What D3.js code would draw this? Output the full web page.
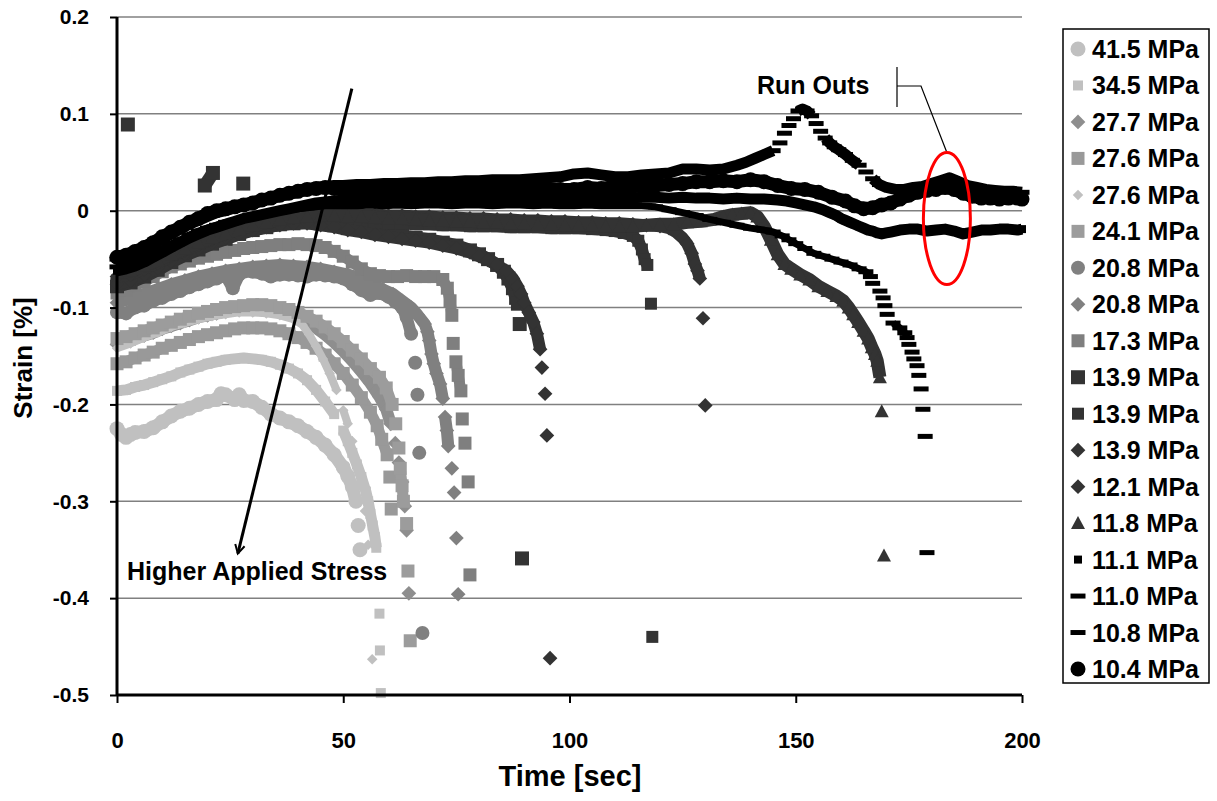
<!DOCTYPE html>
<html>
<head>
<meta charset="utf-8">
<script src="https://cdn.jsdelivr.net/npm/d3@7"></script>
<style>
  body { margin: 0; background: #fff; }
  svg text { font-family: "Liberation Sans", Arial, sans-serif; font-weight: bold; fill: #000; }
</style>
</head>
<body>
<svg id="chart" width="1217" height="801"></svg>
<script>
// ---- Tick values and labels ----
const xTicks = [0, 50, 100, 150, 200];
const yTicks = [0.2, 0.1, 0, -0.1, -0.2, -0.3, -0.4, -0.5];
const yTickLabels = ["0.2", "0.1", "0", "-0.1", "-0.2", "-0.3", "-0.4", "-0.5"];
const stressLabels = ["41.5 MPa", "34.5 MPa", "27.7 MPa", "27.6 MPa", "27.6 MPa", "24.1 MPa",
  "20.8 MPa", "20.8 MPa", "17.3 MPa", "13.9 MPa", "13.9 MPa", "13.9 MPa", "12.1 MPa",
  "11.8 MPa", "11.1 MPa", "11.0 MPa", "10.8 MPa", "10.4 MPa"];

// ---- Creep strain histories [time s, strain %] ----
const s41_5 = [[0,-0.225],[1,-0.231],[2,-0.234],[3,-0.231],[4,-0.229],[6,-0.228],[8,-0.224],[10,-0.218],[12,-0.212],[14,-0.207],[16,-0.204],[18,-0.2],[20,-0.197],[22,-0.195],[23,-0.189],[24,-0.19],[26,-0.195],[27,-0.19],[28,-0.196],[30,-0.197],[32,-0.203],[34,-0.21],[36,-0.214],[38,-0.218],[40,-0.222],[42,-0.228],[44,-0.234],[46,-0.242],[48,-0.252],[50,-0.265],[51,-0.274],[52,-0.285],[52.8,-0.3],[53.3,-0.325],[53.7,-0.35]];
const s34_5 = [[0,-0.186],[2,-0.185],[4,-0.182],[6,-0.18],[8,-0.177],[10,-0.174],[12,-0.171],[14,-0.167],[16,-0.164],[18,-0.161],[20,-0.158],[22,-0.156],[24,-0.154],[26,-0.153],[28,-0.152],[30,-0.153],[32,-0.154],[34,-0.156],[36,-0.159],[38,-0.163],[40,-0.168],[42,-0.175],[44,-0.185],[46,-0.197],[48,-0.21],[50,-0.227],[51,-0.238],[52,-0.25],[53,-0.262],[54,-0.275],[55,-0.29],[55.5,-0.3],[56,-0.313],[56.5,-0.325],[57,-0.337],[57.3,-0.348],[58,-0.416],[58.1,-0.454],[58.3,-0.498]];
const s27_7 = [[0,-0.138],[2,-0.135],[4,-0.132],[6,-0.129],[8,-0.126],[10,-0.122],[12,-0.119],[14,-0.116],[16,-0.113],[18,-0.11],[20,-0.108],[22,-0.106],[24,-0.104],[26,-0.102],[28,-0.101],[30,-0.1],[32,-0.1],[34,-0.101],[36,-0.103],[38,-0.106],[40,-0.11],[42,-0.115],[44,-0.121],[46,-0.128],[48,-0.136],[50,-0.145],[52,-0.155],[54,-0.166],[56,-0.178],[58,-0.192],[59.5,-0.205],[60.5,-0.22],[61.5,-0.24],[62.3,-0.26],[63,-0.28],[63.6,-0.305],[64,-0.33],[64.5,-0.395]];
const s27_6sq = [[0,-0.158],[2,-0.156],[4,-0.152],[6,-0.149],[8,-0.146],[10,-0.142],[12,-0.139],[14,-0.136],[16,-0.133],[18,-0.13],[20,-0.128],[22,-0.126],[24,-0.124],[26,-0.122],[28,-0.121],[30,-0.121],[32,-0.121],[34,-0.122],[36,-0.124],[38,-0.127],[40,-0.131],[42,-0.136],[44,-0.142],[46,-0.149],[48,-0.158],[50,-0.168],[52,-0.18],[54,-0.193],[56,-0.208],[57.5,-0.222],[58.5,-0.236],[59.7,-0.252],[60.3,-0.275],[60.6,-0.308]];
const s27_6d = [[0,-0.142],[3,-0.137],[6,-0.131],[9,-0.126],[12,-0.12],[15,-0.116],[18,-0.112],[21,-0.109],[24,-0.107],[27,-0.105],[30,-0.105],[33,-0.106],[36,-0.108],[39,-0.112],[41,-0.118],[42.5,-0.128],[44,-0.14],[45.5,-0.153],[47,-0.168],[48.5,-0.185],[50,-0.206],[51,-0.22],[52,-0.238],[53,-0.26],[54,-0.285],[54.8,-0.31],[55.5,-0.345],[56.4,-0.463]];
const s24_1 = [[0,-0.132],[2,-0.13],[4,-0.127],[6,-0.124],[8,-0.121],[10,-0.118],[12,-0.115],[14,-0.112],[16,-0.109],[18,-0.106],[20,-0.104],[22,-0.102],[24,-0.1],[26,-0.099],[28,-0.098],[30,-0.097],[32,-0.097],[34,-0.098],[36,-0.1],[38,-0.102],[40,-0.105],[42,-0.109],[44,-0.114],[46,-0.12],[48,-0.127],[50,-0.135],[52,-0.144],[54,-0.153],[56,-0.163],[58,-0.172],[59.5,-0.183],[60.8,-0.2],[61.6,-0.22],[62.3,-0.245],[62.6,-0.266],[63,-0.284],[63.3,-0.3],[64,-0.323],[64.3,-0.372],[64.8,-0.444]];
const s20_8c = [[0,-0.105],[2,-0.106],[4,-0.1],[6,-0.098],[8,-0.093],[10,-0.09],[12,-0.086],[14,-0.083],[16,-0.079],[18,-0.076],[20,-0.073],[22,-0.07],[24,-0.067],[25.6,-0.08],[27,-0.066],[28,-0.063],[30,-0.063],[32,-0.065],[34,-0.068],[36,-0.066],[38,-0.066],[40,-0.067],[42,-0.068],[44,-0.066],[46,-0.067],[48,-0.068],[50,-0.07],[52,-0.076],[54,-0.082],[56,-0.087],[58,-0.085],[60,-0.089],[61.5,-0.094],[63,-0.1],[64,-0.11],[65,-0.127],[65.9,-0.157],[66.4,-0.19],[66.8,-0.25],[67.5,-0.436]];
const s20_8d = [[0,-0.095],[3,-0.091],[6,-0.086],[9,-0.081],[12,-0.076],[15,-0.072],[18,-0.068],[21,-0.065],[24,-0.062],[27,-0.06],[30,-0.058],[33,-0.057],[36,-0.056],[39,-0.057],[42,-0.058],[45,-0.06],[48,-0.063],[51,-0.066],[54,-0.07],[57,-0.077],[59,-0.082],[61,-0.086],[63,-0.093],[65,-0.1],[66.5,-0.108],[68,-0.117],[68.6,-0.125],[69,-0.134],[69.5,-0.148],[70,-0.158],[70.6,-0.168],[71.4,-0.179],[72,-0.194],[72.5,-0.213],[72.9,-0.227],[73.2,-0.243],[74,-0.266],[74.5,-0.291],[75,-0.338],[75.4,-0.396]];
const s17_3 = [[0,-0.085],[2,-0.082],[4,-0.077],[6,-0.073],[8,-0.068],[10,-0.063],[12,-0.058],[14,-0.055],[16,-0.052],[18,-0.049],[20,-0.047],[22,-0.045],[24,-0.043],[26,-0.041],[28,-0.039],[30,-0.038],[32,-0.037],[34,-0.036],[36,-0.035],[38,-0.035],[40,-0.034],[42,-0.035],[44,-0.036],[46,-0.038],[48,-0.042],[50,-0.047],[52,-0.053],[54,-0.06],[56,-0.065],[58,-0.067],[60,-0.068],[62,-0.068],[64,-0.067],[66,-0.068],[68,-0.068],[70,-0.068],[72,-0.071],[73,-0.08],[73.6,-0.093],[74,-0.108],[74.3,-0.137],[74.9,-0.156],[75.4,-0.17],[76,-0.186],[76.3,-0.215],[76.9,-0.24],[77.6,-0.28],[78,-0.376]];
const s13_9a = [[2.4,0.089],[19.4,0.026],[21.2,0.039],[27.9,0.028],[0,-0.078],[3,-0.074],[6,-0.068],[9,-0.061],[12,-0.053],[15,-0.046],[18,-0.04],[21,-0.034],[24,-0.029],[27,-0.024],[30,-0.02],[33,-0.017],[36,-0.014],[39,-0.013],[42,-0.012],[45,-0.013],[48,-0.015],[51,-0.018],[54,-0.02],[57,-0.022],[60,-0.024],[63,-0.026],[66,-0.028],[69,-0.03],[72,-0.033],[75,-0.036],[78,-0.041],[80,-0.045],[82,-0.05],[84,-0.056],[85.5,-0.063],[86.5,-0.07],[87.5,-0.08],[88.2,-0.09],[88.6,-0.096],[89,-0.117],[89.5,-0.359]];
const s13_9b = [[0,-0.072],[3,-0.069],[6,-0.063],[9,-0.057],[12,-0.05],[15,-0.043],[18,-0.037],[21,-0.031],[24,-0.026],[27,-0.021],[30,-0.017],[33,-0.014],[36,-0.012],[39,-0.01],[42,-0.009],[45,-0.009],[48,-0.01],[51,-0.011],[54,-0.012],[57,-0.012],[60,-0.013],[63,-0.013],[66,-0.014],[69,-0.014],[72,-0.015],[75,-0.015],[78,-0.016],[81,-0.016],[84,-0.016],[87,-0.017],[90,-0.017],[93,-0.017],[96,-0.018],[99,-0.018],[102,-0.018],[105,-0.019],[108,-0.02],[110,-0.021],[112,-0.023],[114,-0.026],[115.2,-0.031],[116,-0.04],[116.6,-0.05],[117.2,-0.056],[118,-0.096],[118.3,-0.44]];
const s13_9d = [[0,-0.076],[3,-0.072],[6,-0.066],[9,-0.059],[12,-0.052],[15,-0.045],[18,-0.039],[21,-0.033],[24,-0.028],[27,-0.024],[30,-0.02],[33,-0.017],[36,-0.015],[39,-0.013],[42,-0.013],[45,-0.015],[48,-0.017],[51,-0.02],[54,-0.022],[57,-0.025],[60,-0.027],[63,-0.029],[66,-0.031],[69,-0.033],[72,-0.036],[75,-0.039],[78,-0.043],[80,-0.047],[82,-0.051],[84,-0.056],[86,-0.062],[87.5,-0.07],[88.5,-0.078],[89.3,-0.086],[90,-0.095],[91,-0.105],[92,-0.115],[92.8,-0.127],[93.5,-0.143],[93.9,-0.162],[94.6,-0.189],[95,-0.232],[95.7,-0.462]];
const s12_1 = [[0,-0.068],[3,-0.066],[6,-0.06],[9,-0.054],[12,-0.047],[15,-0.041],[18,-0.035],[21,-0.029],[24,-0.024],[27,-0.019],[30,-0.015],[33,-0.012],[36,-0.009],[39,-0.007],[42,-0.005],[45,-0.004],[48,-0.003],[51,-0.003],[54,-0.004],[57,-0.004],[60,-0.005],[63,-0.005],[66,-0.006],[69,-0.006],[72,-0.007],[75,-0.007],[78,-0.008],[81,-0.008],[84,-0.009],[87,-0.009],[90,-0.01],[93,-0.01],[96,-0.011],[99,-0.011],[102,-0.012],[105,-0.012],[108,-0.013],[111,-0.013],[114,-0.014],[117,-0.015],[120,-0.016],[122,-0.018],[123.5,-0.022],[125,-0.028],[126,-0.034],[127,-0.044],[127.7,-0.055],[128.3,-0.062],[128.8,-0.07],[129.5,-0.111],[130,-0.201]];
const s11_8 = [[0,-0.064],[3,-0.062],[6,-0.057],[9,-0.051],[12,-0.045],[15,-0.039],[18,-0.033],[21,-0.028],[24,-0.023],[27,-0.019],[30,-0.015],[33,-0.012],[36,-0.009],[39,-0.007],[42,-0.006],[45,-0.005],[48,-0.005],[51,-0.006],[54,-0.006],[57,-0.007],[60,-0.008],[63,-0.008],[66,-0.009],[69,-0.01],[72,-0.01],[75,-0.011],[78,-0.011],[81,-0.012],[84,-0.012],[87,-0.013],[90,-0.013],[93,-0.014],[96,-0.014],[99,-0.015],[102,-0.015],[105,-0.015],[108,-0.016],[111,-0.016],[114,-0.016],[117,-0.015],[120,-0.014],[123,-0.014],[126,-0.012],[129,-0.011],[132,-0.009],[134,-0.006],[136,-0.004],[138,-0.003],[140,-0.002],[141.5,-0.006],[143,-0.016],[144.5,-0.03],[146,-0.045],[147.5,-0.055],[149,-0.06],[151,-0.066],[153,-0.071],[155,-0.078],[157,-0.083],[159,-0.088],[160.5,-0.093],[161.7,-0.1],[162.7,-0.107],[163.8,-0.115],[165,-0.124],[166,-0.132],[166.8,-0.141],[167.5,-0.148],[168,-0.155],[168.6,-0.172],[169,-0.207],[169.5,-0.356]];
const s11_1 = [[0,-0.062],[2,-0.06],[4,-0.057],[6,-0.053],[8,-0.048],[10,-0.043],[12,-0.038],[14,-0.033],[16,-0.028],[18,-0.024],[20,-0.02],[22,-0.017],[24,-0.014],[26,-0.011],[28,-0.008],[30,-0.006],[32,-0.004],[34,-0.002],[36,0],[38,0.002],[40,0.004],[42,0.006],[44,0.008],[46,0.009],[48,0.01],[50,0.011],[53,0.012],[56,0.012],[59,0.013],[62,0.012],[65,0.013],[68,0.012],[71,0.012],[74,0.013],[77,0.012],[80,0.013],[83,0.013],[86,0.012],[89,0.013],[92,0.013],[95,0.014],[98,0.013],[101,0.013],[104,0.014],[107,0.013],[110,0.014],[113,0.013],[116,0.014],[119,0.014],[122,0.013],[125,0.014],[128,0.013],[131,0.013],[134,0.012],[137,0.013],[140,0.012],[143,0.012],[146,0.011],[148,0.01],[150,0.008],[152,0.006],[154,0.004],[156,0.001],[157.5,-0.002],[159,-0.005],[160,-0.008],[161,-0.01],[162,-0.012],[163,-0.014],[164,-0.016],[165,-0.018],[166,-0.02],[167,-0.021],[168,-0.023],[169,-0.024],[170,-0.023],[171,-0.022],[173,-0.02],[175,-0.019],[177,-0.019],[179,-0.021],[181,-0.02],[183,-0.019],[185,-0.021],[187,-0.024],[189,-0.022],[191,-0.02],[193,-0.02],[195,-0.019],[197,-0.019],[199,-0.02],[200,-0.019]];
const s11_0 = [[0,-0.058],[2,-0.056],[4,-0.052],[6,-0.048],[8,-0.043],[10,-0.039],[12,-0.034],[14,-0.03],[16,-0.025],[18,-0.021],[20,-0.018],[22,-0.015],[24,-0.012],[26,-0.01],[28,-0.008],[30,-0.006],[32,-0.004],[34,-0.002],[36,-0.001],[38,0.001],[40,0.002],[42,0.003],[44,0.004],[46,0.005],[48,0.005],[50,0.005],[53,0.005],[56,0.006],[59,0.005],[62,0.006],[65,0.005],[68,0.006],[71,0.006],[74,0.005],[77,0.006],[80,0.006],[83,0.005],[86,0.006],[89,0.006],[92,0.005],[95,0.006],[98,0.005],[101,0.005],[104,0.006],[107,0.005],[110,0.005],[113,0.005],[116,0.005],[119,0.004],[122,0.001],[125,-0.002],[128,-0.005],[131,-0.009],[134,-0.012],[137,-0.015],[140,-0.018],[143,-0.02],[145,-0.022],[147,-0.026],[148.5,-0.03],[150,-0.034],[152,-0.039],[154,-0.044],[156,-0.047],[158,-0.05],[160,-0.053],[162,-0.056],[164,-0.06],[165.5,-0.063],[166.5,-0.068],[167,-0.075],[168.6,-0.083],[169.3,-0.09],[169.7,-0.098],[170.2,-0.107],[171.5,-0.116],[173,-0.121],[174.1,-0.126],[174.6,-0.131],[175,-0.138],[175.7,-0.146],[176.1,-0.153],[176.8,-0.16],[177.2,-0.17],[177.7,-0.184],[178.1,-0.205],[178.6,-0.233],[179,-0.353]];
const s10_8 = [[0,-0.05],[2,-0.048],[4,-0.044],[6,-0.04],[8,-0.035],[10,-0.029],[12,-0.024],[14,-0.019],[16,-0.014],[18,-0.01],[20,-0.006],[22,-0.002],[24,0],[26,0.003],[28,0.005],[30,0.008],[32,0.01],[34,0.013],[36,0.015],[38,0.017],[40,0.02],[42,0.022],[44,0.024],[46,0.025],[48,0.026],[50,0.026],[53,0.027],[56,0.027],[59,0.028],[62,0.028],[65,0.029],[68,0.029],[71,0.03],[74,0.03],[77,0.031],[80,0.031],[83,0.032],[86,0.032],[89,0.032],[92,0.033],[95,0.034],[98,0.035],[101,0.038],[104,0.039],[107,0.037],[110,0.035],[113,0.035],[116,0.037],[119,0.038],[122,0.039],[125,0.043],[128,0.043],[131,0.042],[134,0.043],[137,0.047],[139,0.05],[141,0.054],[143,0.058],[145,0.062],[146.5,0.07],[147.5,0.08],[148.5,0.088],[149.5,0.095],[150.5,0.103],[151.5,0.105],[152.5,0.103],[153.5,0.098],[154.5,0.09],[155.5,0.082],[156.5,0.075],[157.5,0.07],[158.5,0.066],[159.5,0.063],[161,0.058],[162.5,0.052],[164,0.047],[165.5,0.04],[167,0.033],[168.5,0.027],[170,0.024],[172,0.022],[174,0.022],[176,0.024],[178,0.025],[180,0.028],[182,0.031],[184,0.034],[186,0.03],[188,0.026],[190,0.024],[192,0.022],[194,0.021],[196,0.02],[198,0.02],[200,0.019]];
const s10_4 = [[0,-0.048],[2,-0.046],[4,-0.042],[6,-0.038],[8,-0.033],[10,-0.027],[12,-0.022],[14,-0.017],[16,-0.012],[18,-0.008],[20,-0.003],[22,0],[24,0.002],[26,0.004],[28,0.006],[30,0.008],[32,0.011],[34,0.013],[36,0.016],[38,0.018],[40,0.02],[42,0.022],[44,0.023],[46,0.024],[48,0.023],[50,0.022],[53,0.022],[56,0.023],[59,0.022],[62,0.021],[65,0.02],[68,0.021],[71,0.02],[74,0.02],[77,0.021],[80,0.02],[83,0.022],[86,0.021],[89,0.022],[92,0.022],[95,0.023],[98,0.022],[101,0.022],[104,0.024],[107,0.023],[110,0.025],[113,0.024],[116,0.026],[119,0.026],[122,0.027],[125,0.028],[128,0.03],[131,0.03],[134,0.031],[137,0.03],[140,0.032],[143,0.03],[146,0.026],[149,0.023],[152,0.022],[155,0.019],[158,0.014],[161,0.01],[163,0.005],[165,0.002],[167,0.003],[169,0.006],[171,0.008],[173,0.012],[175,0.016],[177,0.019],[179,0.021],[181,0.022],[183,0.024],[185,0.022],[187,0.018],[189,0.015],[191,0.013],[193,0.013],[195,0.012],[197,0.013],[199,0.013],[200,0.012]];

const seriesData = [s41_5, s34_5, s27_7, s27_6sq, s27_6d, s24_1, s20_8c, s20_8d, s17_3,
  s13_9a, s13_9b, s13_9d, s12_1, s11_8, s11_1, s11_0, s10_8, s10_4];

// Marker styling per series (same order as the legend)
const markerShapes = ["circle", "square", "diamond", "square", "diamond", "square", "circle", "diamond", "square",
  "square", "square", "diamond", "diamond", "triangle", "square", "dash", "dash", "circle"];
const markerSizes = [15, 10, 14, 13, 10, 13, 14, 14, 13, 14, 12, 14, 14, 14, 8, 15, 15, 15];
const markerColors = ["#c0c0c0", "#c0c0c0", "#8e8e8e", "#999999", "#c0c0c0", "#9c9c9c", "#808080", "#808080", "#7f7f7f",
  "#333333", "#333333", "#333333", "#333333", "#333333", "#000000", "#000000", "#000000", "#000000"];
// Thickness of the band formed where a series' markers overlap (scatter of the readings)
const bandWidths = [13, 11, 12, 11, 8, 11, 12, 12, 11, 13, 12, 12, 12, 13, 11, 7, 11, 13];

// ---- Layout ----
const svg = d3.select("#chart");
const plot = { left: 117, right: 1022, top: 17, bottom: 695 };
const x = d3.scaleLinear().domain([0, 200]).range([plot.left, plot.right]);
const y = d3.scaleLinear().domain([-0.5, 0.2]).range([plot.bottom, plot.top]);
const FONT = "'Liberation Sans', Arial, sans-serif";

function markerPath(shape, s) {
  const h = s / 2;
  switch (shape) {
    case "circle": return `M${-h},0a${h},${h} 0 1,0 ${s},0a${h},${h} 0 1,0 ${-s},0Z`;
    case "square": return `M${-h},${-h}h${s}v${s}h${-s}Z`;
    case "diamond": { const d = h * 1.05; return `M0,${-d}L${d},0L0,${d}L${-d},0Z`; }
    case "triangle": return `M0,${-h}L${h},${h * 0.85}L${-h},${h * 0.85}Z`;
    case "dash": return `M${-h},-2.5h${s}v5h${-s}Z`;
  }
}

// Runs of closely spaced readings: the densely sampled markers overlap into a solid band.
function denseRuns(data, shape) {
  const runs = [];
  let cur = [data[0]];
  for (let k = 1; k < data.length; k++) {
    const dx = Math.abs(x(data[k][0]) - x(data[k - 1][0]));
    const dy = Math.abs(y(data[k][1]) - y(data[k - 1][1]));
    const close = shape === "dash" ? (dx <= 15 && dy <= 6) : (Math.hypot(dx, dy) <= 18);
    if (close) cur.push(data[k]); else { runs.push(cur); cur = [data[k]]; }
  }
  runs.push(cur);
  return runs.filter(r => r.length > 1);
}

// Gridlines
svg.append("g").selectAll("line").data(yTicks).join("line")
  .attr("x1", plot.left).attr("x2", plot.right)
  .attr("y1", d => y(d)).attr("y2", d => y(d))
  .attr("stroke", "#808080").attr("stroke-width", 1.5);

// Series: overlapping-marker bands, then the individual markers on top
const line = d3.line().x(d => x(d[0])).y(d => y(d[1]));
const seriesG = svg.append("g");
seriesData.forEach((data, i) => {
  const g = seriesG.append("g");
  const shape = markerShapes[i], size = markerSizes[i];
  g.selectAll("path.band").data(denseRuns(data, shape)).join("path")
    .attr("class", "band")
    .attr("d", line)
    .attr("fill", "none")
    .attr("stroke", markerColors[i])
    .attr("stroke-width", bandWidths[i])
    .attr("stroke-linejoin", "round")
    .attr("stroke-linecap", shape === "circle" ? "round" : "butt");
  g.selectAll("path.mk").data(data).join("path")
    .attr("class", "mk")
    .attr("d", markerPath(shape, size))
    .attr("transform", d => `translate(${x(d[0])},${y(d[1])})`)
    .attr("fill", markerColors[i]);
});

// Axes
const xAxis = d3.axisBottom(x).tickValues(xTicks).tickSize(8).tickFormat(d3.format("d"));
const gx = svg.append("g").attr("transform", `translate(0,${plot.bottom})`).call(xAxis);
gx.select(".domain").attr("stroke", "#000").attr("stroke-width", 3).attr("d", `M${plot.left},0H${plot.right}`);
gx.selectAll(".tick line").attr("stroke", "#000").attr("stroke-width", 2);
gx.selectAll(".tick text").attr("y", 45).attr("dy", "0.35em").attr("fill", "#000")
  .style("font-size", "22px").style("font-family", FONT).style("font-weight", "bold");

const yAxis = d3.axisLeft(y).tickValues(yTicks).tickSize(7).tickFormat((d, i) => yTickLabels[i]);
const gy = svg.append("g").attr("transform", `translate(${plot.left},0)`).call(yAxis);
gy.select(".domain").attr("stroke", "#000").attr("stroke-width", 3).attr("d", `M0,${plot.top}V${plot.bottom}`);
gy.selectAll(".tick line").attr("stroke", "#000").attr("stroke-width", 2);
gy.selectAll(".tick text").attr("x", -28).attr("fill", "#000")
  .style("font-size", "21px").style("font-family", FONT).style("font-weight", "bold");

// Axis titles
svg.append("text").attr("x", 570).attr("y", 776).attr("dy", "0.35em")
  .attr("text-anchor", "middle").style("font-size", "29px").text("Time [sec]");
svg.append("text").attr("transform", "translate(23,358) rotate(-90)").attr("dy", "0.35em")
  .attr("text-anchor", "middle").style("font-size", "26px").text("Strain [%]");

// Trend arrow: higher applied stress
const arrowStart = [x(51.9), y(0.126)], arrowEnd = [x(26.7), y(-0.354)];
svg.append("line").attr("x1", arrowStart[0]).attr("y1", arrowStart[1])
  .attr("x2", arrowEnd[0]).attr("y2", arrowEnd[1]).attr("stroke", "#000").attr("stroke-width", 3);
const ang = Math.atan2(arrowEnd[1] - arrowStart[1], arrowEnd[0] - arrowStart[0]);
const headLen = 10, headW = 0.5;
svg.append("path")
  .attr("d", `M${arrowEnd[0] - headLen * Math.cos(ang - headW)},${arrowEnd[1] - headLen * Math.sin(ang - headW)}L${arrowEnd[0]},${arrowEnd[1]}L${arrowEnd[0] - headLen * Math.cos(ang + headW)},${arrowEnd[1] - headLen * Math.sin(ang + headW)}`)
  .attr("fill", "none").attr("stroke", "#000").attr("stroke-width", 2);
svg.append("text").attr("x", 127).attr("y", 580).style("font-size", "25px").text("Higher Applied Stress");

// Run-out callout
const ell = { cx: x(183.4), cy: y(-0.008), rx: 23.5, ry: 66 };
svg.append("text").attr("x", 757).attr("y", 94).style("font-size", "25px").text("Run Outs");
svg.append("path").attr("d", `M897,67V107M897,86H921L${ell.cx},${ell.cy - ell.ry}`)
  .attr("fill", "none").attr("stroke", "#000").attr("stroke-width", 1.2);
svg.append("ellipse").attr("cx", ell.cx).attr("cy", ell.cy).attr("rx", ell.rx).attr("ry", ell.ry)
  .attr("fill", "none").attr("stroke", "#ff0000").attr("stroke-width", 3);

// Legend
const legend = svg.append("g");
legend.append("rect").attr("x", 1063).attr("y", 29).attr("width", 146).attr("height", 654)
  .attr("fill", "#fff").attr("stroke", "#000").attr("stroke-width", 1.5);
const rowY = d3.scaleLinear().domain([0, stressLabels.length - 1]).range([49, 669]);
stressLabels.forEach((lab, i) => {
  const g = legend.append("g").attr("transform", `translate(0,${rowY(i)})`);
  g.append("path").attr("d", markerPath(markerShapes[i], markerSizes[i]))
    .attr("transform", "translate(1078,0)").attr("fill", markerColors[i]);
  g.append("text").attr("x", 1092).attr("dy", "0.36em").style("font-size", "25px").text(lab);
});
</script>
</body>
</html>
